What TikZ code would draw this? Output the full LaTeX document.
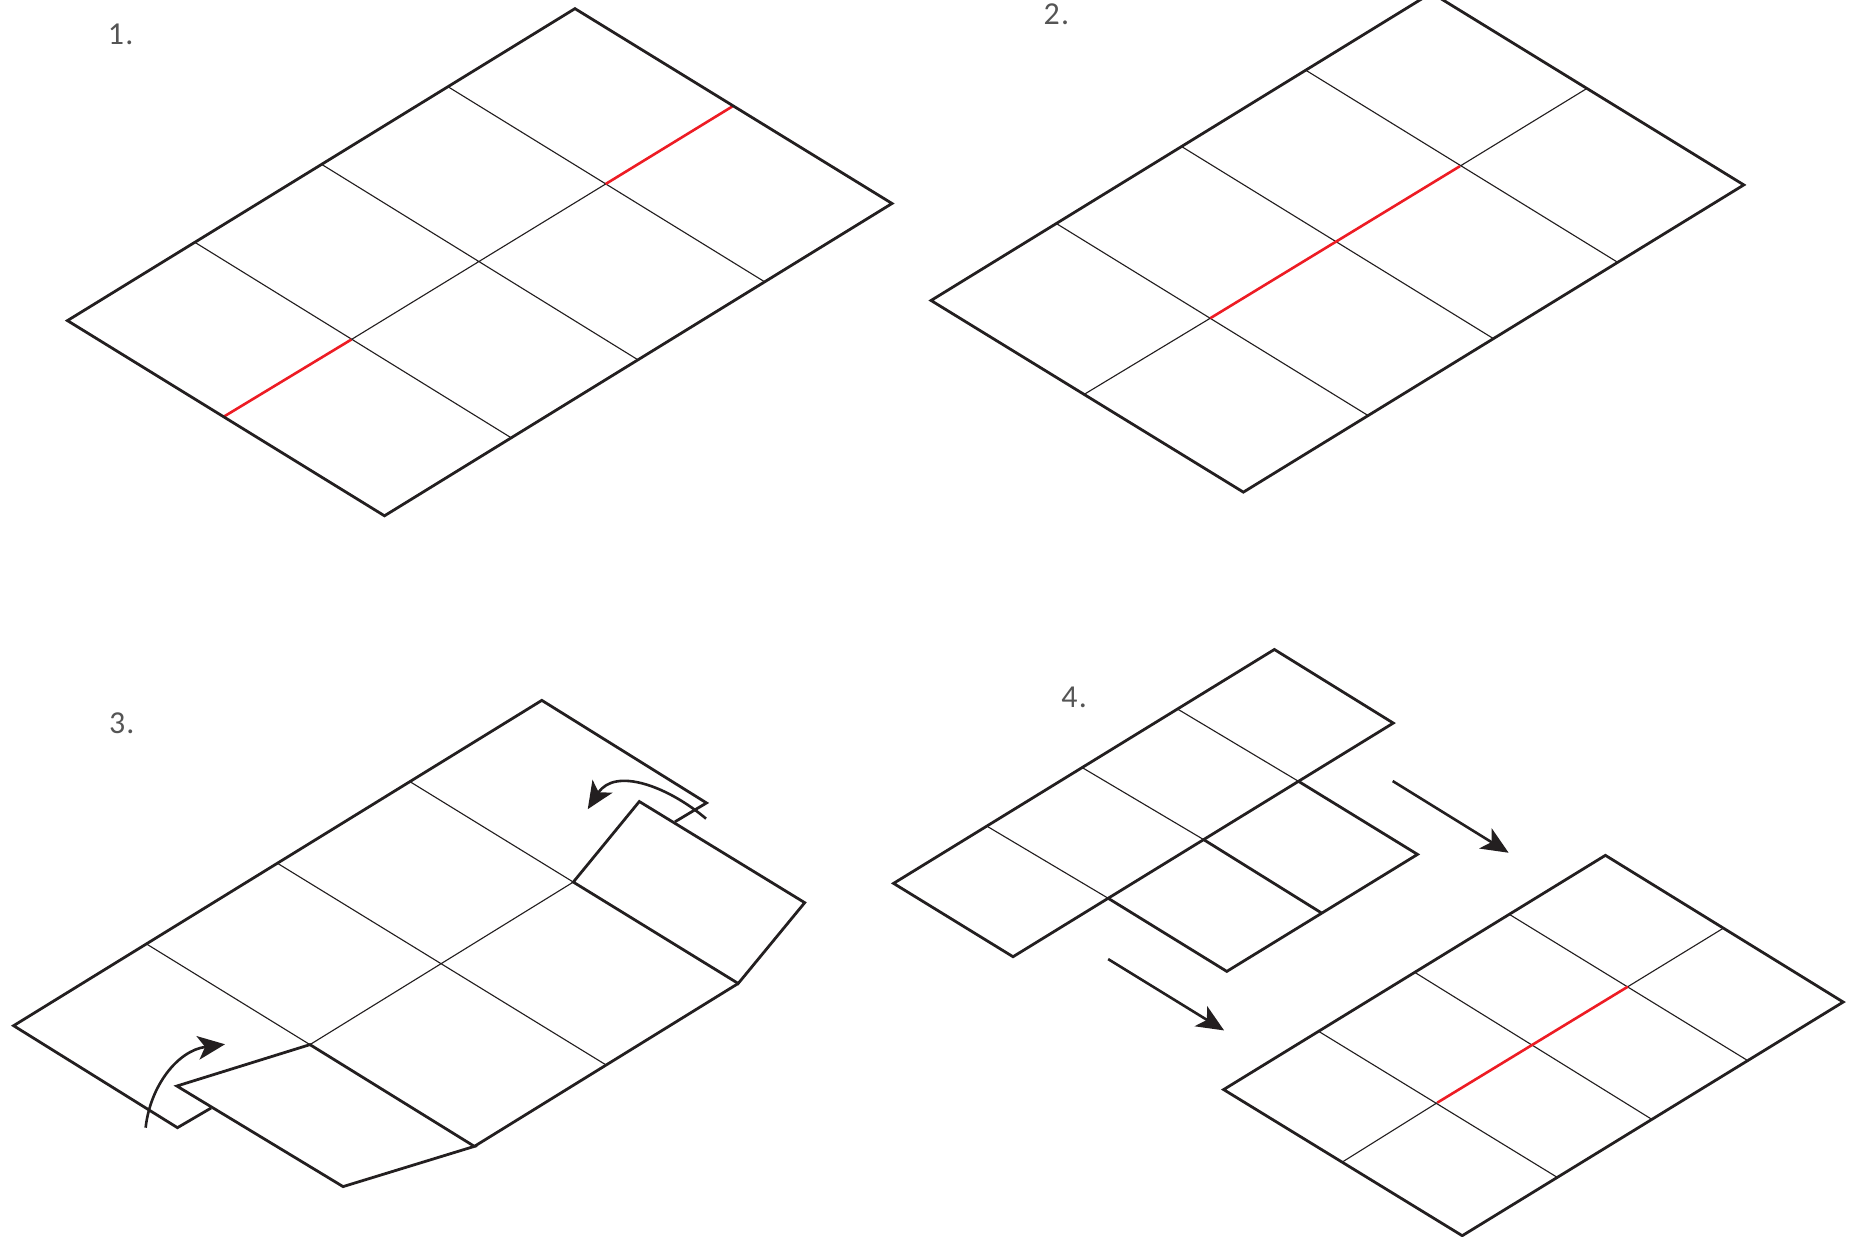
\documentclass[tikz,border=0pt]{standalone}
\usepackage{fontspec}
\setmainfont{Carlito}
\usetikzlibrary{arrows.meta}
\definecolor{ink}{HTML}{231F20}
\definecolor{foldred}{HTML}{ED1C24}
\definecolor{labelgray}{HTML}{555555}
\tikzset{
  heavy/.style={draw=ink,line width=2.35pt,line join=miter,line cap=butt},
  thin line/.style={draw=ink,line width=0.95pt},
  redline/.style={draw=foldred,line width=2.2pt},
  movearrow/.style={draw=ink,line width=2.2pt,-{Stealth[length=23pt,width=20pt,inset=6pt]}},
  steplabel/.style={text=labelgray,font=\fontsize{27}{27}\selectfont,inner sep=0pt,anchor=base west}
}
\begin{document}
\begin{tikzpicture}[x=1pt,y=-1pt]
\useasboundingbox (0,0) rectangle (1568,1045.6);
\clip (0,0) rectangle (1568,1045.6);
% ---------- Panel 1
\coordinate (aL) at (57,271); \coordinate (aT) at (486,7.3); \coordinate (aR) at (754,172); \coordinate (aB) at (325,436);
\coordinate (aa1) at (165,205); \coordinate (aa2) at (272,139); \coordinate (aa3) at (379,73.5);
\coordinate (ab1) at (432,370); \coordinate (ab2) at (539,304); \coordinate (ab3) at (646,238);
\coordinate (am0) at (189,352.3); \coordinate (am1) at (297,287); \coordinate (am2) at (405,221); \coordinate (am3) at (512,155.5); \coordinate (am4) at (619,90);
\draw[thin line] (aa1)--(ab1) (aa2)--(ab2) (aa3)--(ab3) (am1)--(am3);
\draw[redline] (am0)--(am1) (am3)--(am4);
\draw[heavy] (aL)--(aT)--(aR)--(aB)--cycle;
% ---------- Panel 2
\coordinate (bL) at (787,254); \coordinate (bT) at (1210,-6); \coordinate (bR) at (1474,156.3); \coordinate (bB) at (1051,416);
\coordinate (ba1) at (893,189); \coordinate (ba2) at (999,124); \coordinate (ba3) at (1104,59.5);
\coordinate (bb1) at (1156,351); \coordinate (bb2) at (1262,286); \coordinate (bb3) at (1367,221.5);
\coordinate (bm0) at (917,333); \coordinate (bm1) at (1023,269); \coordinate (bm2) at (1129,205); \coordinate (bm3) at (1234,140.5); \coordinate (bm4) at (1341,75);
\draw[thin line] (ba1)--(bb1) (ba2)--(bb2) (ba3)--(bb3) (bm0)--(bm1) (bm3)--(bm4);
\draw[redline] (bm1)--(bm3);
\draw[heavy] (bL)--(bT)--(bR)--(bB)--cycle;
% ---------- Panel 3
\coordinate (cL) at (11.5,867); \coordinate (cT) at (458,592); \coordinate (cC) at (150,953.2); \coordinate (cS) at (178.4,936.6);
\coordinate (ca1) at (124,798); \coordinate (ca2) at (235,730); \coordinate (ca3) at (347,661);
\coordinate (cj1) at (262,883); \coordinate (cj2) at (373,814); \coordinate (cj3) at (484.6,745.6);
\coordinate (cb2) at (512,900);
\coordinate (cF1) at (149.5,918); \coordinate (cF2) at (290,1003); \coordinate (cF3) at (401,969);
\coordinate (cG1) at (624,831.3); \coordinate (cG2) at (680.2,763); \coordinate (cG3) at (540.4,677.5);
\coordinate (cU1) at (597.2,678.7); \coordinate (cU2) at (570.6,694.6);
\draw[thin line] (ca1)--(cj1) (ca2)--(cb2) (ca3)--(cj3) (cj1)--(cj3);
\draw[heavy] (cS)--(cC)--(cL)--(cT)--(cU1)--(cU2);
\draw[heavy] (cj1)--(cF1)--(cF2)--(cF3)--cycle;
\draw[heavy] (cF3)--(cG1);
\draw[heavy] (cj3)--(cG3)--(cG2)--(cG1)--cycle;
\coordinate (cA1) at (123.1,953.2); \coordinate (cA2) at (190.2,882.7);
\coordinate (cA3) at (596.8,692); \coordinate (cA4) at (496.8,684);
\draw[movearrow] (cA1) .. controls (127,918) and (150,888) .. (cA2);
\draw[movearrow] (cA3) .. controls (565,665) and (520,648) .. (cA4);
% ---------- Panel 4
\coordinate (dT) at (1077.2,549); \coordinate (dR1) at (1177.7,611.2); \coordinate (dL) at (755.3,746.7); \coordinate (dB1) at (856.3,808.7);
\coordinate (da1) at (995.8,599.6); \coordinate (da2) at (915.4,649.2); \coordinate (da3) at (835,698.8);
\coordinate (dj1) at (1097.2,660.2); \coordinate (dj2) at (1017.1,709.5); \coordinate (dj3) at (936.4,759.1);
\coordinate (dR2) at (1198.2,722.2); \coordinate (dE) at (1116.7,771.5); \coordinate (dB2) at (1037,821.1);
\draw[thin line] (da1)--(dj1) (da2)--(dj2) (da3)--(dj3);
\draw[heavy] (dL)--(dT)--(dR1)--(dB1)--cycle;
\draw[heavy] (dj1)--(dR2)--(dB2)--(dj3);
\draw[heavy] (dj2)--(dE);
\coordinate (dA1) at (1177.2,660.2); \coordinate (dA2) at (1275.2,720.8);
\coordinate (dA3) at (936.7,810.7); \coordinate (dA4) at (1034.7,871);
\draw[movearrow] (dA1)--(dA2);
\draw[movearrow] (dA3)--(dA4);
% ---------- Panel 5
\coordinate (eL) at (1034.3,921); \coordinate (eT) at (1357,723); \coordinate (eR) at (1558,847); \coordinate (eB) at (1236,1044.5);
\coordinate (ea1) at (1115,872); \coordinate (ea2) at (1196,822); \coordinate (ea3) at (1276,773);
\coordinate (eb1) at (1316,995); \coordinate (eb2) at (1396,946); \coordinate (eb3) at (1476.5,896);
\coordinate (em0) at (1135,982); \coordinate (em1) at (1215,932); \coordinate (em3) at (1376,834); \coordinate (em4) at (1456,785);
\draw[thin line] (ea1)--(eb1) (ea2)--(eb2) (ea3)--(eb3) (em0)--(em1) (em3)--(em4);
\draw[redline] (em1)--(em3);
\draw[heavy] (eL)--(eT)--(eR)--(eB)--cycle;
% ---------- Labels
\node[steplabel] (l1) at (91,38) {1\kern1pt.};
\node[steplabel] (l2) at (882,21) {2\kern1pt.};
\node[steplabel] (l3) at (92,620) {3\kern1pt.};
\node[steplabel] (l4) at (897,598) {4\kern1pt.};
\end{tikzpicture}
\end{document}
